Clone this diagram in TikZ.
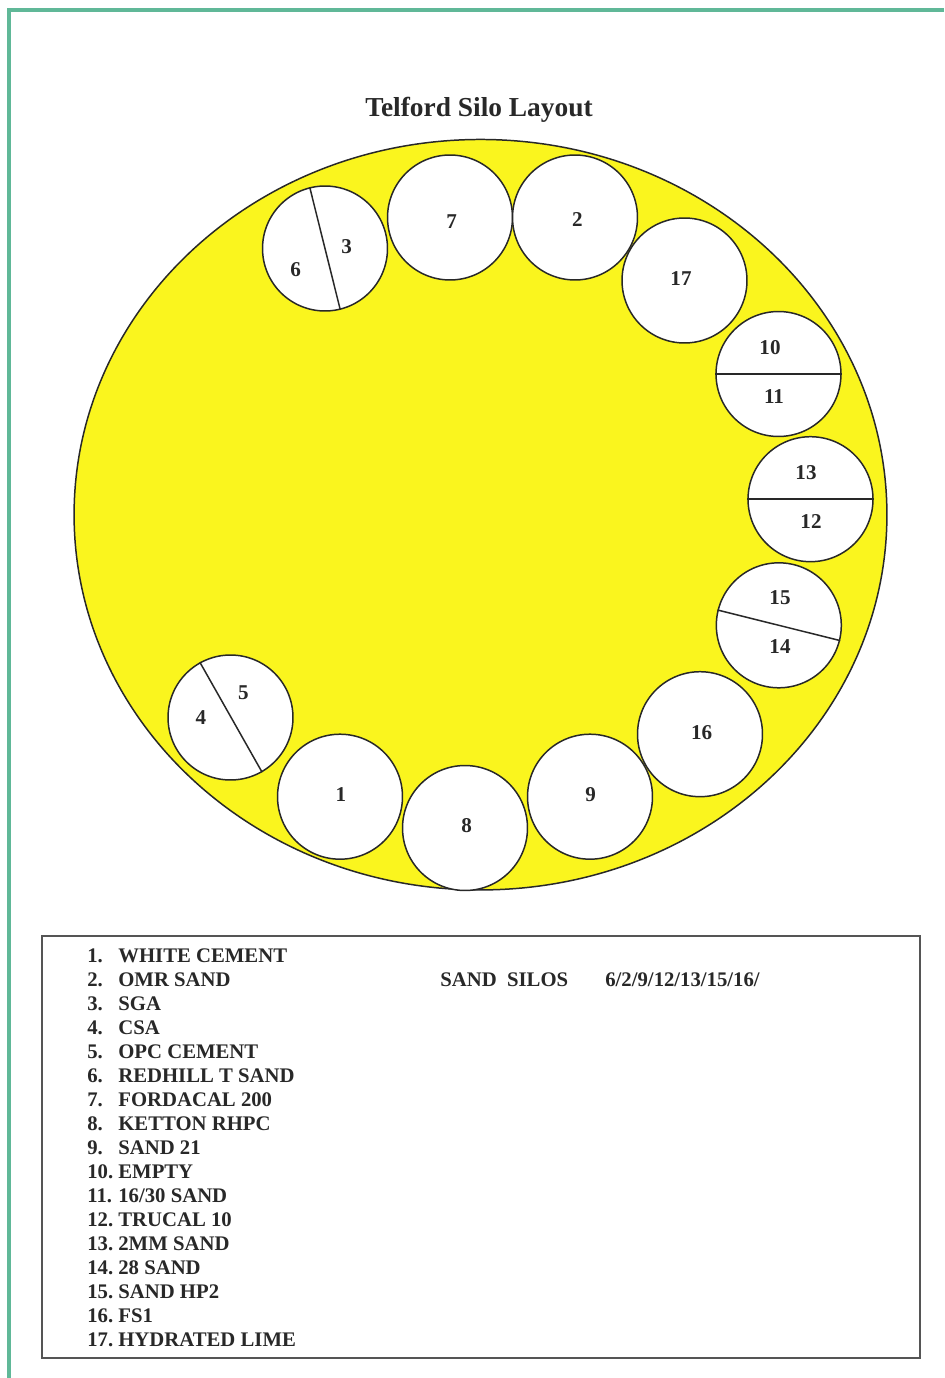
\documentclass[tikz,border=0pt]{standalone}
\usepackage{fontspec}
\setmainfont{Liberation Serif}
\definecolor{siloyellow}{RGB}{250,245,30}
\definecolor{framegreen}{RGB}{96,184,152}
\definecolor{inkgray}{RGB}{40,40,40}
\definecolor{boxgray}{RGB}{85,85,85}
\begin{document}
\begin{tikzpicture}[x=0.02cm,y=-0.02cm,
  silo/.style={circle, draw=inkgray, line width=0.85pt, fill=white, minimum size=2.5cm, inner sep=0pt},
  num/.style={font=\fontsize{12}{14}\selectfont\bfseries, text=inkgray, inner sep=0pt},
  divider/.style={draw=inkgray, line width=0.85pt},
  legend/.style={font=\fontsize{11.8}{14}\selectfont\bfseries, text=inkgray, anchor=base west, inner sep=0pt},
  titletext/.style={font=\fontsize{15.6}{18}\selectfont\bfseries, text=inkgray, anchor=base, inner sep=0pt}]
\useasboundingbox (0,0) rectangle (944,1378);
\fill[white] (0,0) rectangle (944,1378);
% frame
\draw[framegreen, line width=2.3pt] (944,10) -- (9,10) -- (9,1378);
% title
\node[titletext] (title) at (479,117) {Telford Silo Layout};
% yard
\draw[draw=inkgray, line width=0.85pt, fill=siloyellow] (480.5,514.7) ellipse [x radius=8.13cm, y radius=7.506cm];
% silos
\node[silo] (s63)   at (325,248.5) {};
\node[silo] (s7)    at (450,217.5) {};
\node[silo] (s2)    at (575,217.5) {};
\node[silo] (s17)   at (684.5,280.5) {};
\node[silo] (s1011) at (778.5,374) {};
\node[silo] (s1312) at (810.5,499.2) {};
\node[silo] (s1514) at (778.8,625.3) {};
\node[silo] (s16)   at (700,734.2) {};
\node[silo] (s9)    at (590,796.7) {};
\node[silo] (s8)    at (465,828) {};
\node[silo] (s1)    at (340,796.7) {};
\node[silo] (s45)   at (230.5,717.5) {};
% dividers
\draw[divider] (s63.104) -- (s63.284);
\draw[divider] (s1011.180) -- (s1011.0);
\draw[divider] (s1312.180) -- (s1312.0);
\draw[divider] (s1514.166) -- (s1514.346);
\draw[divider] (s45.119) -- (s45.300);
% silo numbers
\node[num] (n3)  at (346.7,246.7) {3};
\node[num] (n6)  at (295.7,270) {6};
\node[num] (n7)  at (451.7,221.7) {7};
\node[num] (n2)  at (577.3,219.3) {2};
\node[num] (n17) at (681,278.3) {17};
\node[num] (n10) at (770,348) {10};
\node[num] (n11) at (774,397) {11};
\node[num] (n13) at (806,473) {13};
\node[num] (n12) at (811,522) {12};
\node[num] (n15) at (780,598) {15};
\node[num] (n14) at (780,647) {14};
\node[num] (n16) at (701.7,732.7) {16};
\node[num] (n9)  at (590.7,795) {9};
\node[num] (n8)  at (466.7,826) {8};
\node[num] (n1)  at (341,795) {1};
\node[num] (n5)  at (243.3,692.7) {5};
\node[num] (n4)  at (201,717.7) {4};
% legend box
\draw[boxgray, line width=1pt] (42,936) rectangle (920,1358);
\foreach \i/\t in {1/WHITE CEMENT,2/OMR SAND,3/SGA,4/CSA,5/OPC CEMENT,6/REDHILL T SAND,7/FORDACAL 200,8/KETTON RHPC,9/SAND 21,10/EMPTY,11/16\slash30 SAND,12/TRUCAL 10,13/2MM SAND,14/28 SAND,15/SAND HP2,16/FS1,17/HYDRATED LIME}{
  \node[legend] (ln\i) at (87,{962+24*(\i-1)}) {\i.};
  \node[legend] (lt\i) at (118,{962+24*(\i-1)}) {\t};
}
\node[legend] (sandsilos) at (440,986) {SAND\ \ SILOS};
\node[legend] (sandlist) at (605,986) {6/2/9/12/13/15/16/};
\end{tikzpicture}
\end{document}
